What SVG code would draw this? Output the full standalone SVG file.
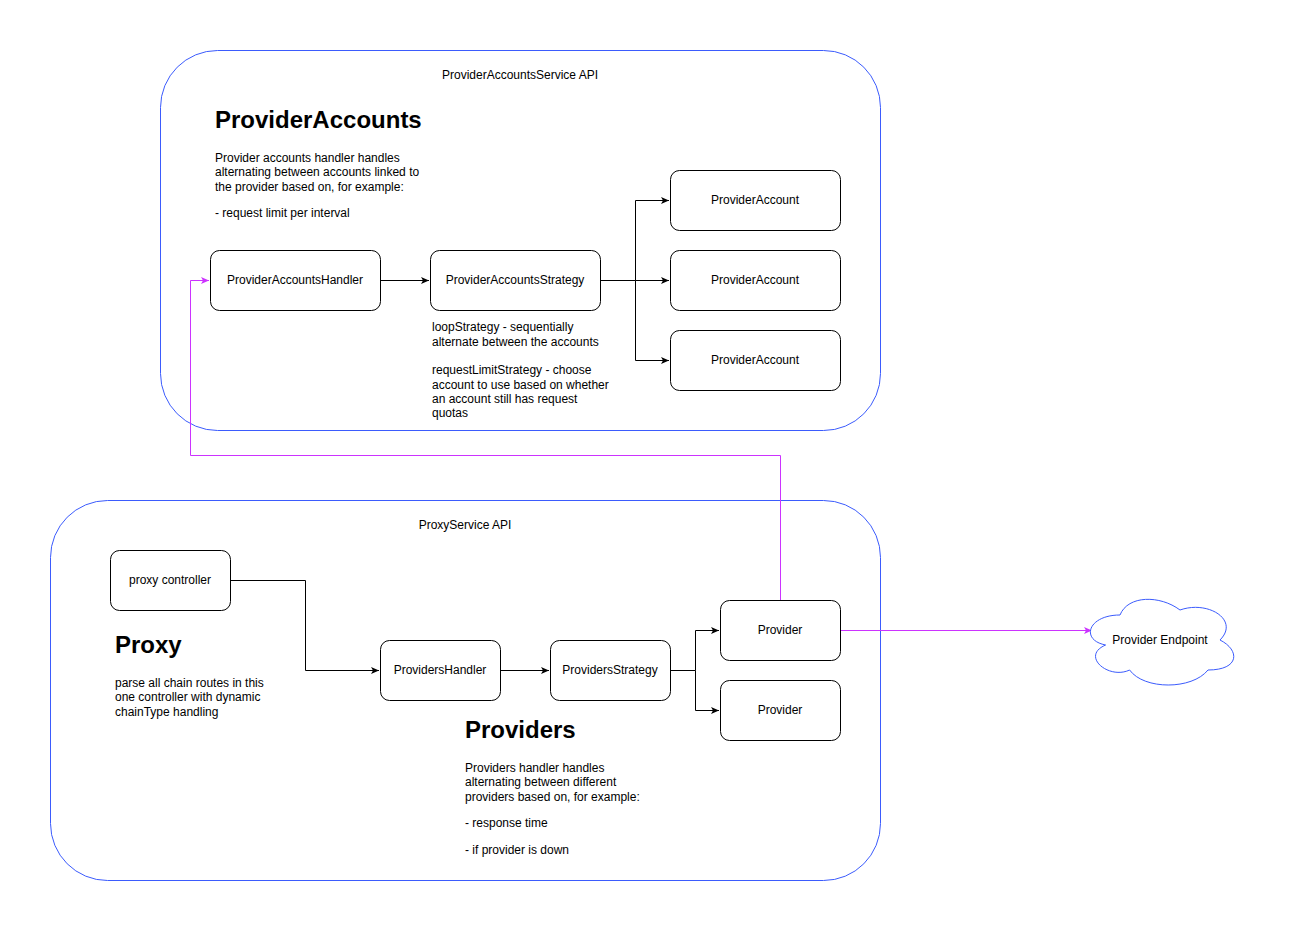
<svg xmlns="http://www.w3.org/2000/svg" width="1292" height="931" viewBox="0 0 1292 931">
<style>
text{font-family:"Liberation Sans",Arial,sans-serif;fill:#000}
.c{fill:none;stroke:#3b5bfd;stroke-width:1}
.n{fill:#fff;stroke:#000;stroke-width:1}
.t{font-size:12px;text-anchor:middle}
.s{font-size:12px}
.h{font-size:24px;font-weight:bold}
.e{fill:none;stroke:#000;stroke-width:1}
.m{fill:none;stroke:#cc33ff;stroke-width:1}
</style>
<defs>
<marker id="a" markerWidth="10" markerHeight="8" refX="8" refY="4" orient="auto" markerUnits="userSpaceOnUse"><path d="M0,0.5 L8,4 L0,7.5 L2,4 Z" fill="#000"/></marker>
<marker id="am" markerWidth="10" markerHeight="8" refX="8" refY="4" orient="auto" markerUnits="userSpaceOnUse"><path d="M0,0.5 L8,4 L0,7.5 L2,4 Z" fill="#cc33ff"/></marker>
</defs>
<rect width="1292" height="931" fill="#fff"/>
<g id="container-accounts">
<rect class="c" x="160.5" y="50.5" width="720" height="380" rx="57" ry="57"/>
<text class="t" x="520" y="79">ProviderAccountsService API</text>
<text class="h" x="215" y="128">ProviderAccounts</text>
<text class="s" x="215" y="162">Provider accounts handler handles</text>
<text class="s" x="215" y="176">alternating between accounts linked to</text>
<text class="s" x="215" y="191">the provider based on, for example:</text>
<text class="s" x="215" y="217">- request limit per interval</text>
</g>
<g id="container-proxy">
<rect class="c" x="50.5" y="500.5" width="830" height="380" rx="57" ry="57"/>
<text class="t" x="465" y="529">ProxyService API</text>
<text class="h" x="115" y="653">Proxy</text>
<text class="s" x="115" y="687">parse all chain routes in this</text>
<text class="s" x="115" y="701">one controller with dynamic</text>
<text class="s" x="115" y="716">chainType handling</text>
<text class="h" x="465" y="738">Providers</text>
<text class="s" x="465" y="772">Providers handler handles</text>
<text class="s" x="465" y="786">alternating between different</text>
<text class="s" x="465" y="801">providers based on, for example:</text>
<text class="s" x="465" y="827">- response time</text>
<text class="s" x="465" y="854">- if provider is down</text>
</g>
<g id="connectors">
<path class="e" d="M380.5,280.5 H429" marker-end="url(#a)"/>
<path class="e" d="M600.5,280.5 H635.5 V200.5 H669" marker-end="url(#a)"/>
<path class="e" d="M635.5,280.5 H669" marker-end="url(#a)"/>
<path class="e" d="M635.5,280.5 V360.5 H669" marker-end="url(#a)"/>
<path class="e" d="M230.5,580.5 H305.5 V670.5 H379" marker-end="url(#a)"/>
<path class="e" d="M500.5,670.5 H549" marker-end="url(#a)"/>
<path class="e" d="M670.5,670.5 H695.5 V630.5 H719" marker-end="url(#a)"/>
<path class="e" d="M695.5,670.5 V710.5 H719" marker-end="url(#a)"/>
<path class="m" d="M780.5,600 V455.5 H190.5 V280.5 H209" marker-end="url(#am)"/>
<path class="m" d="M840.5,630.5 H1092" marker-end="url(#am)"/>
</g>
<g id="node-accounts-handler">
<rect class="n" x="210.5" y="250.5" width="170" height="60" rx="9"/>
<text class="t" x="295" y="284">ProviderAccountsHandler</text>
</g>
<g id="node-accounts-strategy">
<rect class="n" x="430.5" y="250.5" width="170" height="60" rx="9"/>
<text class="t" x="515" y="284">ProviderAccountsStrategy</text>
<text class="s" x="432" y="331">loopStrategy - sequentially</text>
<text class="s" x="432" y="346">alternate between the accounts</text>
<text class="s" x="432" y="374">requestLimitStrategy - choose</text>
<text class="s" x="432" y="389">account to use based on whether</text>
<text class="s" x="432" y="403">an account still has request</text>
<text class="s" x="432" y="417">quotas</text>
</g>
<g id="node-account-1">
<rect class="n" x="670.5" y="170.5" width="170" height="60" rx="9"/>
<text class="t" x="755" y="204">ProviderAccount</text>
</g>
<g id="node-account-2">
<rect class="n" x="670.5" y="250.5" width="170" height="60" rx="9"/>
<text class="t" x="755" y="284">ProviderAccount</text>
</g>
<g id="node-account-3">
<rect class="n" x="670.5" y="330.5" width="170" height="60" rx="9"/>
<text class="t" x="755" y="364">ProviderAccount</text>
</g>
<g id="node-proxy-controller">
<rect class="n" x="110.5" y="550.5" width="120" height="60" rx="9"/>
<text class="t" x="170" y="584">proxy controller</text>
</g>
<g id="node-providers-handler">
<rect class="n" x="380.5" y="640.5" width="120" height="60" rx="9"/>
<text class="t" x="440" y="674">ProvidersHandler</text>
</g>
<g id="node-providers-strategy">
<rect class="n" x="550.5" y="640.5" width="120" height="60" rx="9"/>
<text class="t" x="610" y="674">ProvidersStrategy</text>
</g>
<g id="node-provider-1">
<rect class="n" x="720.5" y="600.5" width="120" height="60" rx="9"/>
<text class="t" x="780" y="634">Provider</text>
</g>
<g id="node-provider-2">
<rect class="n" x="720.5" y="680.5" width="120" height="60" rx="9"/>
<text class="t" x="780" y="714">Provider</text>
</g>
<g id="node-endpoint">
<path d="M1120,615 C1088,615 1080,640 1105.6,645 C1080,656 1108.8,680 1129.6,670 C1144,690 1192,690 1208,670 C1240,670 1240,650 1220,640 C1240,620 1208,600 1180,610 C1160,595 1128,595 1120,615 Z" fill="#fff" stroke="#3b5bfd" stroke-width="1"/>
<text class="t" x="1160" y="644">Provider Endpoint</text>
</g>
</svg>
